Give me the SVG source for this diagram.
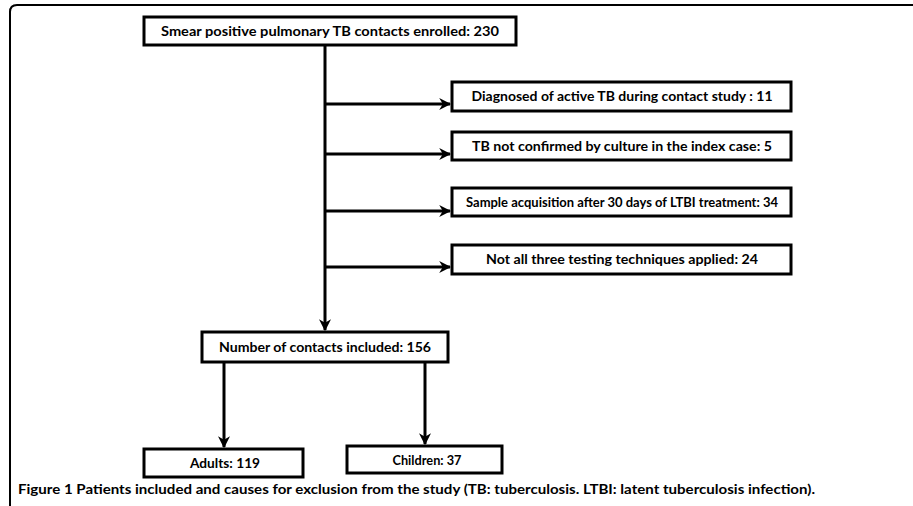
<svg xmlns="http://www.w3.org/2000/svg" width="913" height="506" viewBox="0 0 913 506">
<defs>
<marker id="ah" viewBox="0 0 10 10" refX="9" refY="5" markerWidth="4" markerHeight="4" orient="auto" markerUnits="strokeWidth">
<path d="M0,0 L10,5 L0,10 L3,5 Z" fill="#000"/>
</marker>
<style>
.box{fill:#fff;stroke:#000;stroke-width:3}
.t{font-family:"Lato","Liberation Sans",sans-serif;font-weight:bold;font-size:14px;fill:#000;text-anchor:middle}
.cap{font-family:"Lato","Liberation Sans",sans-serif;font-weight:bold;font-size:13.5px;fill:#000}
.ln{fill:none;stroke:#000;stroke-width:3}
</style>
</defs>
<rect width="913" height="506" fill="#fff"/>
<path d="M10,506 L10,12 Q10,5 17,5 L913,5" fill="none" stroke="#000" stroke-width="2"/>
<g id="connectors">
<line class="ln" x1="325" y1="45" x2="325" y2="330" marker-end="url(#ah)"/>
<line class="ln" x1="325" y1="104" x2="450" y2="104" marker-end="url(#ah)"/>
<line class="ln" x1="325" y1="154" x2="450" y2="154" marker-end="url(#ah)"/>
<line class="ln" x1="325" y1="211" x2="450" y2="211" marker-end="url(#ah)"/>
<line class="ln" x1="325" y1="267" x2="450" y2="267" marker-end="url(#ah)"/>
<line class="ln" x1="224" y1="362" x2="224" y2="447" marker-end="url(#ah)"/>
<line class="ln" x1="425" y1="362" x2="425" y2="444" marker-end="url(#ah)"/>
</g>
<g id="n-enrolled">
<rect class="box" x="144" y="17" width="372" height="28"/>
<text class="t" x="330" y="36" textLength="338" lengthAdjust="spacingAndGlyphs">Smear positive pulmonary TB contacts enrolled: 230</text>
</g>
<g id="n-active">
<rect class="box" x="452" y="82" width="339" height="29"/>
<text class="t" x="622" y="101" textLength="301" lengthAdjust="spacingAndGlyphs">Diagnosed of active TB during contact study : 11</text>
</g>
<g id="n-culture">
<rect class="box" x="452" y="132" width="339" height="28"/>
<text class="t" x="622" y="151" textLength="300" lengthAdjust="spacingAndGlyphs">TB not confirmed by culture in the index case: 5</text>
</g>
<g id="n-sample">
<rect class="box" x="452" y="188" width="339" height="28"/>
<text class="t" x="622" y="207" textLength="312" lengthAdjust="spacingAndGlyphs">Sample acquisition after 30 days of LTBI treatment: 34</text>
</g>
<g id="n-techniques">
<rect class="box" x="452" y="245" width="339" height="29"/>
<text class="t" x="622" y="264" textLength="272" lengthAdjust="spacingAndGlyphs">Not all three testing techniques applied: 24</text>
</g>
<g id="n-included">
<rect class="box" x="202" y="332" width="246" height="30"/>
<text class="t" x="325" y="352" textLength="212" lengthAdjust="spacingAndGlyphs">Number of contacts included: 156</text>
</g>
<g id="n-adults">
<rect class="box" x="144" y="449" width="159" height="28"/>
<text class="t" x="225" y="468" textLength="70" lengthAdjust="spacingAndGlyphs">Adults: 119</text>
</g>
<g id="n-children">
<rect class="box" x="347" y="446" width="155" height="27"/>
<text class="t" x="427" y="465" textLength="69" lengthAdjust="spacingAndGlyphs">Children: 37</text>
</g>
<text class="cap" x="18" y="494" textLength="797" lengthAdjust="spacingAndGlyphs">Figure 1 Patients included and causes for exclusion from the study (TB: tuberculosis. LTBI: latent tuberculosis infection).</text>
</svg>
